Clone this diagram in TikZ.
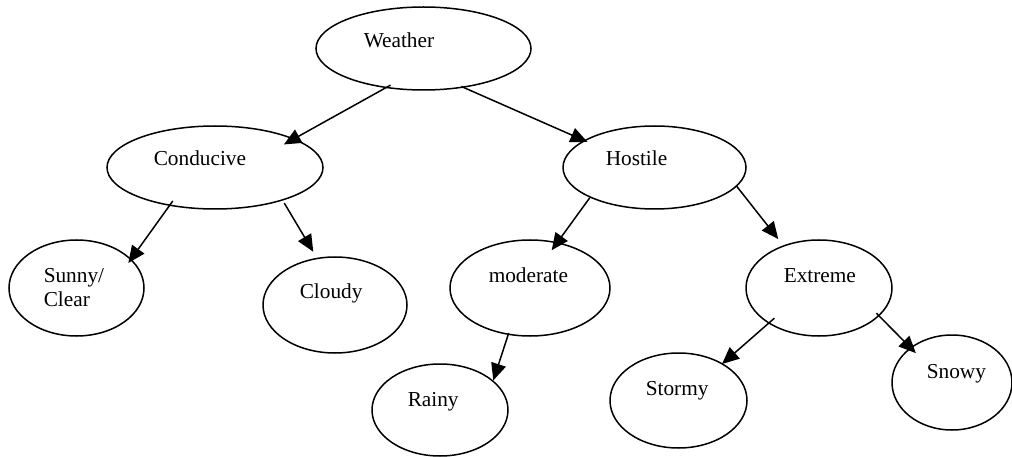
\documentclass[tikz,border=0pt]{standalone}
\usepackage{fontspec}
\setmainfont{Liberation Serif}
\usetikzlibrary{shapes.geometric}
\usetikzlibrary{arrows.meta}

\begin{document}
\begin{tikzpicture}[x=1pt,y=-1pt,line width=1.5pt,
        blob/.style={draw,ellipse,inner sep=0pt},
        lbl/.style={anchor=base west,inner sep=0pt,align=left,font=\fontsize{21.3}{24}\selectfont},
        arr/.style={-{Triangle[length=17pt,width=15pt]}}]
        \useasboundingbox (0,0) rectangle (1012,457);

        % ellipses
        \node[blob,minimum width=215pt,minimum height=83pt] (weather) at (423.5,48.5) {};
        \node[blob,minimum width=216pt,minimum height=83pt] (conducive) at (215,167.5) {};
        \node[blob,minimum width=183pt,minimum height=83pt] (hostile) at (654.5,167.5) {};
        \node[blob,minimum width=135pt,minimum height=96pt] (sunny) at (76.5,288) {};
        \node[blob,minimum width=144pt,minimum height=96pt] (cloudy) at (335,305) {};
        \node[blob,minimum width=160pt,minimum height=96pt] (moderate) at (530,288) {};
        \node[blob,minimum width=136pt,minimum height=92pt] (rainy) at (440,410) {};
        \node[blob,minimum width=146pt,minimum height=96pt] (extreme) at (819,288) {};
        \node[blob,minimum width=137pt,minimum height=95pt] (stormy) at (678.5,400.5) {};
        \node[blob,minimum width=120pt,minimum height=95pt] (snowy) at (952,382.5) {};

        % texts
        \node[lbl] (weathertxt) at (363,48) {Weather};
        \node[lbl] (conducivetxt) at (153,166) {Conducive};
        \node[lbl] (hostiletxt) at (605,166) {Hostile};
        \node[lbl] (sunnytxt) at (43,306) {Sunny/\\Clear};
        \node[lbl] (cloudytxt) at (299,298) {Cloudy};
        \node[lbl] (moderatetxt) at (488,282) {moderate};
        \node[lbl] (rainytxt) at (407,406) {Rainy};
        \node[lbl] (extremetxt) at (783,282) {Extreme};
        \node[lbl] (stormytxt) at (645,395) {Stormy};
        \node[lbl] (snowytxt) at (926,378) {Snowy};

        % arrows
        \draw[arr,shorten <=-6pt,shorten >=-12pt] (weather.226) -- (conducive.20);
        \draw[arr,shorten <=-3pt,shorten >=-4pt] (weather.316) -- (hostile.159);
        \draw[arr,shorten <=-6pt,shorten >=-5pt] (conducive.220) -- (sunny.28);
        \draw[arr,shorten <=3pt,shorten >=7pt] (conducive.334) -- (cloudy.111);
        \draw[arr,shorten >=-10pt] (hostile.205) -- (moderate.59);
        \draw[arr,shorten <=-1pt,shorten >=8pt] (hostile.347) -- (extreme.130);
        \draw[arr,shorten <=-2pt] (moderate.245) -- (rainy.29);
        \draw[arr,shorten <=-8pt,shorten >=-1pt] (extreme.215) -- (stormy.40);
        \draw[arr,shorten <=-4pt,shorten >=-8pt] (extreme.335) -- (snowy.140);
\end{tikzpicture}
\end{document}
